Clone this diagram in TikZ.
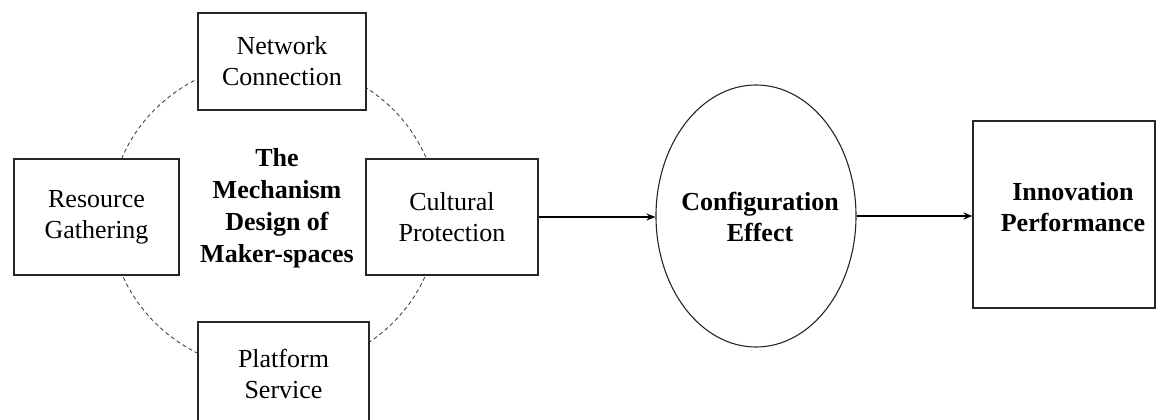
\documentclass[tikz,border=0pt]{standalone}
\usepackage{fontspec}
\setmainfont{Liberation Serif}
\usetikzlibrary{shapes.geometric,arrows.meta}
\begin{document}
\begin{tikzpicture}[x=1pt,y=-1pt,
  box/.style={draw=black!85,line width=1.2pt,fill=white,inner sep=0pt,align=center,
    font=\fontsize{26}{31}\selectfont},
  boldtxt/.style={inner sep=0pt,align=center,font=\fontsize{26}{32}\selectfont\bfseries},
  arr/.style={line width=1.8pt,-{Stealth[length=9pt,width=7pt]}},
  ring/.style={draw=black!80,line width=0.8pt,dash pattern=on 4pt off 3pt}]
\clip (0,0) rectangle (1160,420);
\fill[white] (0,0) rectangle (1160,420);
% dashed ring
\draw[ring] (274,216) ellipse [x radius=164, y radius=155];
% boxes
\node[box,minimum width=168pt,minimum height=97pt] (net) at (282,61.5) {Network\\Connection};
\node[box,minimum width=165pt,minimum height=116pt] (res) at (96.5,217) {Resource\\Gathering};
\node[box,minimum width=172pt,minimum height=116pt] (cul) at (452,217) {Cultural\\Protection};
\node[box,minimum width=171pt,minimum height=103pt] (pla) at (283.5,373.5) {Platform\\Service};
\node[boldtxt] (mech) at (277,208.5) {The\\Mechanism\\Design of\\Maker-spaces};
% ellipse
\node[ellipse,draw=black!85,line width=1.1pt,minimum width=200pt,minimum height=262pt,inner sep=0pt] (conf) at (756,216) {};
\node[boldtxt,font=\fontsize{26}{31}\selectfont\bfseries] (conft) at (760,217) {Configuration\\Effect};
% innovation box
\node[box,minimum width=182pt,minimum height=187pt] (inn) at (1064,214.5) {};
\node[boldtxt,font=\fontsize{26}{31}\selectfont\bfseries] (innt) at (1073,207.5) {Innovation\\Performance};
% arrows
\draw[arr] (cul.east) -- (cul.east -| conf.west);
\draw[arr] (conf.east) -- (conf.east -| inn.west);
\end{tikzpicture}
\end{document}
